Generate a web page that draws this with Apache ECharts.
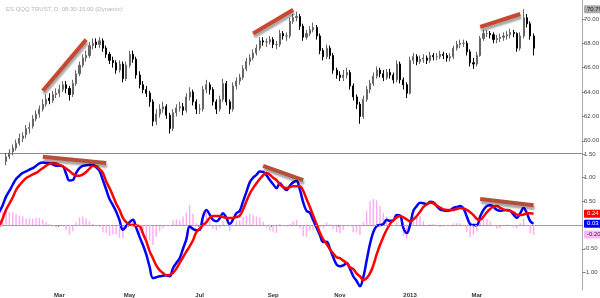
<!DOCTYPE html>
<html>
<head>
<meta charset="utf-8">
<script src="https://cdn.jsdelivr.net/npm/echarts@6/dist/echarts.min.js"></script>
<style>
html, body { margin: 0; padding: 0; background: #fff; }
#main { width: 600px; height: 298px; }
</style>
</head>
<body>
<div id="main"></div>
<script>
// QQQ daily, one slot = two trading days
var titleText = "ES QQQ TRUST, D, 08:30-15:00 (Dynamic)";
var monthNames = ["Jan", "Feb", "Mar", "Apr", "May", "Jun", "Jul", "Aug", "Sep", "Oct", "Nov", "Dec", "2013", "Feb", "Mar", "Apr"];
var monthDays = [20, 20, 22, 20, 22, 21, 21, 23, 19, 21, 21, 20, 21, 19, 20, 14];
var padSlots = 14;

var priceOpen = [
    57.2, 57.4, 57.6, 57.9, 58.3, 58.7, 59.1, 59.4, 59.8, 60.2,
    60.5, 61.0, 61.2, 61.8, 62.2, 62.6, 63.0, 63.5, 63.3, 63.8,
    63.9, 64.2, 64.6, 64.3, 63.8, 64.7, 65.5, 66.2, 66.8, 67.0,
    67.8, 68.1, 67.9, 68.2, 67.6, 67.1, 66.6, 66.4, 65.8, 66.3,
    65.1, 66.2, 67.1, 66.7, 65.4, 64.6, 64.2, 63.9, 63.2, 61.6,
    62.2, 62.6, 62.8, 62.1, 61.0, 62.3, 62.7, 62.8, 62.5, 63.6,
    64.0, 63.2, 62.6, 62.6, 64.2, 64.6, 64.2, 63.2, 62.6, 63.4,
    64.7, 63.2, 62.6, 64.5, 64.9, 65.2, 65.9, 66.5, 66.8, 67.2,
    67.6, 68.2, 68.1, 68.1, 68.3, 67.9, 67.9, 68.8, 68.6, 68.6,
    69.8, 70.1, 70.2, 69.4, 68.5, 68.8, 69.1, 69.3, 68.6, 67.4,
    66.9, 67.6, 67.0, 65.8, 65.4, 65.2, 65.4, 65.6, 64.5, 63.6,
    63.0, 62.0, 63.4, 64.2, 64.7, 65.3, 65.8, 65.5, 65.2, 65.6,
    65.4, 65.0, 66.3, 65.0, 64.6, 63.9, 66.6, 66.9, 66.5, 66.7,
    66.8, 66.6, 67.0, 66.9, 66.9, 67.1, 67.0, 66.8, 66.9, 67.6,
    67.9, 68.0, 68.0, 67.3, 66.4, 66.3, 67.0, 68.4, 68.8, 68.8,
    68.7, 68.3, 68.4, 68.5, 68.6, 68.7, 68.9, 68.8, 67.6, 68.6,
    70.1, 69.6, 68.6
];
var priceClose = [
    57.4, 57.6, 57.8, 58.3, 58.7, 59.0, 59.4, 59.8, 60.2, 60.4,
    61.0, 61.1, 61.8, 62.2, 62.6, 63.0, 63.4, 63.3, 63.8, 63.9,
    64.2, 64.6, 64.3, 63.8, 64.7, 65.5, 66.2, 66.8, 67.0, 67.8,
    68.0, 67.9, 68.2, 67.6, 67.1, 66.6, 66.4, 65.8, 66.3, 65.1,
    66.2, 67.1, 66.7, 65.4, 64.6, 64.2, 63.9, 63.2, 61.6, 62.2,
    62.6, 62.8, 62.1, 61.0, 62.3, 62.7, 62.8, 62.5, 63.6, 64.0,
    63.2, 62.6, 62.6, 64.2, 64.6, 64.2, 63.2, 62.6, 63.4, 64.7,
    63.2, 62.6, 64.5, 64.9, 65.2, 65.9, 66.5, 66.8, 67.2, 67.6,
    68.2, 68.1, 68.1, 68.3, 67.9, 67.9, 68.8, 68.6, 68.6, 69.8,
    70.1, 70.2, 69.4, 68.5, 68.8, 69.1, 69.3, 68.6, 67.4, 66.9,
    67.6, 67.0, 65.8, 65.4, 65.2, 65.4, 65.6, 64.5, 63.6, 63.0,
    62.0, 63.4, 64.2, 64.7, 65.3, 65.8, 65.5, 65.2, 65.6, 65.4,
    65.0, 66.3, 65.0, 64.6, 63.9, 66.6, 66.9, 66.5, 66.7, 66.8,
    66.6, 67.0, 66.9, 66.9, 67.1, 67.0, 66.8, 66.9, 67.6, 67.9,
    68.0, 68.0, 67.3, 66.4, 66.3, 67.0, 68.4, 68.8, 68.8, 68.7,
    68.3, 68.4, 68.5, 68.6, 68.7, 68.9, 68.8, 67.6, 68.6, 70.1,
    69.6, 68.6, 67.6
];
var priceHigh = [
    57.7, 57.9, 58.1, 58.6, 59.0, 59.3, 59.7, 60.1, 60.6, 60.7,
    61.3, 61.5, 62.1, 62.5, 62.9, 63.4, 63.8, 63.9, 64.1, 64.3,
    64.6, 64.9, 64.9, 64.5, 65.0, 65.8, 66.5, 67.1, 67.4, 68.1,
    68.4, 68.4, 68.5, 68.4, 67.8, 67.3, 66.9, 66.6, 66.6, 66.5,
    66.5, 67.4, 67.4, 66.9, 65.7, 64.9, 64.5, 64.1, 63.4, 62.6,
    63.0, 63.2, 63.0, 62.3, 62.6, 63.0, 63.2, 63.1, 63.9, 64.4,
    64.2, 63.4, 63.0, 64.5, 65.0, 64.8, 64.4, 63.4, 63.7, 65.1,
    64.9, 63.4, 64.8, 65.2, 65.5, 66.2, 66.8, 67.1, 67.5, 67.9,
    68.5, 68.5, 68.4, 68.6, 68.5, 68.2, 69.1, 69.0, 68.9, 70.1,
    70.4, 70.6, 70.4, 69.6, 69.1, 69.4, 69.7, 69.5, 68.8, 67.6,
    67.9, 67.8, 67.2, 66.0, 65.7, 65.8, 66.0, 65.8, 64.7, 63.8,
    63.2, 63.7, 64.5, 65.0, 65.6, 66.1, 66.0, 65.8, 65.9, 65.9,
    65.6, 66.6, 66.5, 65.2, 64.8, 66.9, 67.2, 67.1, 67.0, 67.1,
    67.0, 67.3, 67.2, 67.2, 67.4, 67.3, 67.2, 67.2, 67.8, 68.2,
    68.3, 68.3, 68.2, 67.5, 66.8, 67.3, 68.6, 69.1, 69.1, 69.0,
    68.9, 68.7, 68.8, 68.9, 69.0, 69.2, 69.1, 68.9, 68.9, 70.79,
    70.4, 69.8, 68.8
];
var priceLow = [
    56.9, 57.1, 57.3, 57.7, 58.0, 58.5, 58.8, 59.2, 59.6, 59.9,
    60.2, 60.6, 61.0, 61.6, 61.9, 62.4, 62.8, 63.0, 63.1, 63.5,
    63.6, 64.0, 63.9, 63.3, 63.6, 64.5, 65.3, 66.0, 66.5, 66.8,
    67.5, 67.6, 67.6, 67.3, 66.8, 66.3, 66.0, 65.5, 65.6, 64.8,
    64.9, 66.0, 66.4, 65.1, 64.3, 63.9, 63.6, 62.8, 61.2, 61.3,
    61.9, 62.3, 61.8, 60.6, 60.8, 62.0, 62.4, 62.1, 62.3, 63.3,
    62.9, 62.2, 62.2, 62.4, 63.9, 63.8, 62.9, 62.2, 62.4, 63.2,
    62.9, 62.2, 62.4, 64.2, 64.6, 65.0, 65.7, 66.2, 66.6, 67.0,
    67.4, 67.8, 67.7, 67.9, 67.6, 67.5, 67.7, 68.3, 68.2, 68.4,
    69.6, 69.8, 69.1, 68.2, 68.3, 68.6, 68.9, 68.3, 67.1, 66.6,
    66.7, 66.7, 65.5, 65.1, 64.9, 64.9, 65.1, 64.2, 63.3, 62.6,
    61.4, 61.8, 63.2, 63.9, 64.5, 65.1, 65.2, 64.9, 65.0, 65.1,
    64.7, 64.8, 64.7, 64.2, 63.5, 63.8, 66.3, 66.2, 66.3, 66.4,
    66.3, 66.4, 66.6, 66.6, 66.7, 66.7, 66.5, 66.5, 66.7, 67.4,
    67.6, 67.7, 67.0, 66.1, 65.9, 66.1, 66.9, 68.2, 68.5, 68.4,
    68.0, 68.0, 68.1, 68.2, 68.3, 68.4, 68.5, 67.3, 67.4, 68.4,
    69.3, 68.3, 67.0
];

var macdLine = [
    0.05, 0.18, 0.28, 0.42, 0.60, 0.72, 0.85, 0.97, 1.04, 1.10,
    1.13, 1.17, 1.20, 1.25, 1.30, 1.32, 1.31, 1.31, 1.28, 1.25,
    1.25, 1.24, 1.08, 0.94, 0.95, 1.10, 1.20, 1.25, 1.26, 1.27,
    1.27, 1.22, 1.14, 0.95, 0.75, 0.55, 0.42, 0.28, 0.10, -0.10,
    -0.02, 0.06, 0.11, -0.06, -0.25, -0.42, -0.62, -0.88, -1.12, -1.10,
    -1.08, -1.07, -1.06, -1.08, -0.91, -0.80, -0.70, -0.50, -0.30, -0.03,
    -0.08, -0.11, -0.10, 0.18, 0.32, 0.22, 0.11, 0.08, 0.14, 0.25,
    0.15, 0.02, 0.12, 0.25, 0.30, 0.50, 0.70, 0.90, 1.00, 1.06,
    1.13, 1.12, 1.05, 0.95, 0.86, 0.78, 0.88, 0.80, 0.74, 0.83,
    0.90, 0.93, 0.75, 0.48, 0.30, 0.26, 0.10, -0.05, -0.21, -0.36,
    -0.35, -0.50, -0.68, -0.83, -0.87, -0.85, -0.80, -0.92, -1.08, -1.18,
    -1.29, -1.10, -0.75, -0.40, -0.15, -0.02, 0.00, 0.02, 0.11, 0.09,
    0.10, 0.21, 0.20, -0.06, -0.17, 0.00, 0.30, 0.40, 0.47, 0.46,
    0.44, 0.49, 0.48, 0.40, 0.33, 0.31, 0.30, 0.31, 0.36, 0.38,
    0.40, 0.35, 0.18, 0.02, 0.00, 0.00, 0.18, 0.32, 0.40, 0.42,
    0.38, 0.32, 0.30, 0.31, 0.32, 0.30, 0.22, 0.15, 0.25, 0.36,
    0.25, 0.08, 0.03
];
var signalLine = [
    -0.25, -0.12, -0.02, 0.14, 0.32, 0.45, 0.58, 0.74, 0.84, 0.92,
    0.99, 1.03, 1.07, 1.10, 1.15, 1.20, 1.25, 1.29, 1.31, 1.30,
    1.27, 1.24, 1.19, 1.14, 1.08, 1.04, 1.04, 1.07, 1.12, 1.19,
    1.25, 1.24, 1.18, 1.10, 0.92, 0.78, 0.62, 0.45, 0.32, 0.15,
    0.06, 0.01, 0.00, -0.01, -0.02, -0.18, -0.34, -0.55, -0.70, -0.85,
    -0.95, -1.01, -1.06, -1.05, -1.01, -0.92, -0.80, -0.68, -0.56, -0.45,
    -0.32, -0.15, -0.08, 0.00, 0.06, 0.15, 0.19, 0.19, 0.19, 0.17,
    0.15, 0.15, 0.15, 0.17, 0.20, 0.33, 0.50, 0.66, 0.78, 0.88,
    0.97, 1.05, 1.10, 1.06, 1.00, 0.95, 0.86, 0.80, 0.78, 0.80,
    0.82, 0.82, 0.82, 0.72, 0.55, 0.38, 0.20, 0.02, -0.16, -0.30,
    -0.40, -0.51, -0.60, -0.68, -0.70, -0.75, -0.80, -0.89, -0.93, -1.02,
    -1.08, -1.16, -1.12, -1.02, -0.85, -0.62, -0.42, -0.25, -0.10, 0.02,
    0.10, 0.16, 0.19, 0.16, 0.12, 0.08, 0.12, 0.19, 0.28, 0.38,
    0.44, 0.47, 0.46, 0.41, 0.37, 0.33, 0.32, 0.32, 0.32, 0.34,
    0.36, 0.35, 0.32, 0.27, 0.21, 0.13, 0.11, 0.18, 0.27, 0.34,
    0.39, 0.40, 0.36, 0.33, 0.31, 0.30, 0.27, 0.22, 0.21, 0.22,
    0.25, 0.25, 0.24
];
var macdHist = [
    0.30, 0.30, 0.30, 0.28, 0.28, 0.27, 0.27, 0.23, 0.20, 0.18,
    0.14, 0.14, 0.13, 0.15, 0.15, 0.12, 0.06, 0.02, -0.03, -0.05,
    -0.02, 0.00, -0.11, -0.20, -0.13, 0.06, 0.16, 0.18, 0.14, 0.08,
    0.02, -0.02, -0.04, -0.15, -0.17, -0.23, -0.20, -0.20, -0.27, -0.28,
    -0.08, 0.05, 0.11, -0.05, -0.23, -0.24, -0.28, -0.33, -0.42, -0.25,
    -0.13, -0.06, 0.00, -0.03, 0.10, 0.12, 0.10, 0.18, 0.26, 0.42,
    0.24, 0.04, -0.02, 0.18, 0.26, 0.07, -0.08, -0.11, -0.05, 0.08,
    0.00, -0.13, -0.03, 0.08, 0.10, 0.17, 0.20, 0.24, 0.22, 0.18,
    0.16, 0.07, -0.05, -0.11, -0.14, -0.17, 0.02, 0.00, -0.04, 0.03,
    0.08, 0.11, -0.07, -0.24, -0.25, -0.12, -0.10, -0.07, -0.05, -0.06,
    0.05, 0.01, -0.08, -0.15, -0.17, -0.10, 0.00, -0.03, -0.15, -0.16,
    -0.21, 0.06, 0.30, 0.50, 0.55, 0.52, 0.40, 0.26, 0.18, 0.07,
    0.00, 0.05, 0.01, -0.22, -0.29, -0.08, 0.18, 0.21, 0.19, 0.08,
    0.00, 0.02, 0.02, -0.01, -0.04, -0.02, -0.02, -0.01, 0.04, 0.04,
    0.04, 0.00, -0.14, -0.25, -0.21, -0.13, 0.07, 0.14, 0.13, 0.08,
    -0.01, -0.08, -0.06, -0.02, 0.01, 0.00, -0.05, -0.07, 0.04, 0.14,
    0.00, -0.17, -0.20
];

var priceTicks = [60, 62, 64, 66, 68, 70];
var macdTicks = [-1, -0.5, 0.5, 1, 1.5];
// [slotFrom, valueFrom, slotTo, valueTo]
var priceTrends = [[15, 64.1, 28, 68.3], [78, 68.8, 90, 70.75], [146, 69.35, 158, 70.4]];
var macdTrends = [[15, 1.44, 34, 1.31], [81, 1.25, 93, 0.95], [146, 0.55, 162, 0.42]];

var totalSlots = priceClose.length + padSlots;
var slotLabels = [];
var slotNames = [];
for (var i = 0; i < totalSlots; i++) {
    slotLabels.push("");
    slotNames.push(String(i));
}
var day = 0;
for (var m = 0; m < monthNames.length; m++) {
    if (m % 2 === 0) slotLabels[Math.floor(day / 2)] = monthNames[m];
    day += monthDays[m];
}

var candles = [];
for (var k = 0; k < priceClose.length; k++) {
    candles.push([priceOpen[k], priceClose[k], priceLow[k], priceHigh[k]]);
}

var fontFam = "Liberation Sans, Arial, sans-serif";

function tagLabel(bg, fg) {
    return {
        show: true,
        position: "end",
        distance: 2,
        backgroundColor: bg,
        color: fg,
        fontSize: 6,
        fontFamily: fontFam,
        padding: [1, 3, 1, 3],
        borderRadius: 1,
        formatter: function (p) { return p.value.toFixed(2); }
    };
}

var trendStyle = {
    color: "#c6492f",
    width: 4,
    shadowColor: "rgba(0,0,0,0.35)",
    shadowBlur: 2,
    shadowOffsetX: 1,
    shadowOffsetY: 3
};

var series = [
    {
        type: "candlestick",
        xAxisIndex: 0,
        yAxisIndex: 0,
        data: candles,
        barWidth: 1.6,
        clip: true,
        itemStyle: {
            color: "#666",
            color0: "#000",
            borderColor: "#666",
            borderColor0: "#000",
            borderWidth: 1
        },
        markLine: {
            silent: true,
            symbol: "none",
            animation: false,
            data: [{
                yAxis: Math.max.apply(null, priceHigh),
                lineStyle: { color: "transparent" },
                label: tagLabel("#aaa", "#222")
            }]
        }
    },
    {
        type: "bar",
        xAxisIndex: 1,
        yAxisIndex: 1,
        data: macdHist,
        barWidth: 1.4,
        itemStyle: { color: "#ffaaf2" },
        markLine: {
            silent: true,
            symbol: "none",
            animation: false,
            data: [
                {
                    yAxis: 0,
                    lineStyle: { color: "#999", type: [2, 2], width: 1 },
                    label: { show: false }
                },
                {
                    yAxis: macdHist[macdHist.length - 1],
                    lineStyle: { color: "transparent" },
                    label: tagLabel("#ffb6f6", "#333")
                }
            ]
        }
    },
    {
        type: "line",
        xAxisIndex: 1,
        yAxisIndex: 1,
        data: macdLine,
        showSymbol: false,
        smooth: 0.4,
        lineStyle: { color: "#0000ff", width: 2.5 },
        markLine: {
            silent: true,
            symbol: "none",
            animation: false,
            data: [{
                yAxis: macdLine[macdLine.length - 1],
                lineStyle: { color: "transparent" },
                label: tagLabel("#0000ff", "#fff")
            }]
        }
    },
    {
        type: "line",
        xAxisIndex: 1,
        yAxisIndex: 1,
        data: signalLine,
        showSymbol: false,
        smooth: 0.4,
        lineStyle: { color: "#ff0000", width: 2.5 },
        markLine: {
            silent: true,
            symbol: "none",
            animation: false,
            data: [{
                yAxis: signalLine[signalLine.length - 1],
                lineStyle: { color: "transparent" },
                label: tagLabel("#ff0000", "#fff")
            }]
        }
    }
];

priceTrends.forEach(function (t) {
    series.push({
        type: "line", xAxisIndex: 0, yAxisIndex: 0, z: 5,
        data: [[t[0], t[1]], [t[2], t[3]]],
        showSymbol: false,
        lineStyle: trendStyle
    });
});
macdTrends.forEach(function (t) {
    series.push({
        type: "line", xAxisIndex: 1, yAxisIndex: 1, z: 5,
        data: [[t[0], t[1]], [t[2], t[3]]],
        showSymbol: false,
        lineStyle: Object.assign({}, trendStyle, { color: "#b4503a" })
    });
});

var chart = echarts.init(document.getElementById("main"));
chart.setOption({
    animation: false,
    backgroundColor: "#fff",
    textStyle: { fontFamily: fontFam },
    title: {
        text: titleText,
        left: 1,
        top: 1,
        textStyle: { fontSize: 6, fontWeight: "normal", color: "#b5b5b5", fontFamily: fontFam }
    },
    grid: [
        { left: -9, right: 18, top: 0, height: 153, outerBoundsMode: "none", containLabel: false },
        { left: -9, right: 18, top: 153, height: 137, outerBoundsMode: "none", containLabel: false }
    ],
    xAxis: [
        {
            type: "category",
            gridIndex: 0,
            data: slotNames,
            boundaryGap: true,
            axisLine: { show: true, lineStyle: { color: "#8a8a8a", width: 1 } },
            axisTick: { show: false },
            axisLabel: { show: false },
            splitLine: { show: false }
        },
        {
            type: "category",
            gridIndex: 1,
            data: slotNames,
            boundaryGap: true,
            axisLine: { show: true, lineStyle: { color: "#aaa", width: 1 } },
            axisTick: {
                show: true,
                length: 2,
                lineStyle: { color: "#888" },
                interval: function (idx) { return slotLabels[idx] !== ""; }
            },
            axisLabel: {
                show: true,
                fontSize: 6,
                fontWeight: "bold",
                color: "#333",
                margin: 2,
                interval: function (idx) { return slotLabels[idx] !== ""; },
                formatter: function (v, idx) { return slotLabels[idx]; }
            },
            splitLine: { show: false }
        }
    ],
    yAxis: [
        {
            type: "value",
            gridIndex: 0,
            position: "right",
            min: 59.0,
            max: 71.55,
            axisLine: { show: true, lineStyle: { color: "#aaa" } },
            axisTick: { show: true, length: 3, customValues: priceTicks, lineStyle: { color: "#888" } },
            axisLabel: {
                show: true, fontSize: 6, color: "#444", margin: 2,
                customValues: priceTicks,
                formatter: function (v) { return v.toFixed(2); }
            },
            splitLine: { show: false }
        },
        {
            type: "value",
            gridIndex: 1,
            position: "right",
            min: -1.37,
            max: 1.52,
            axisLine: { show: true, lineStyle: { color: "#aaa" } },
            axisTick: { show: true, length: 3, customValues: macdTicks, lineStyle: { color: "#888" } },
            axisLabel: {
                show: true, fontSize: 6, color: "#444", margin: 2,
                customValues: macdTicks,
                formatter: function (v) { return v.toFixed(2); }
            },
            splitLine: { show: false }
        }
    ],
    series: series
});
</script>
</body>
</html>
